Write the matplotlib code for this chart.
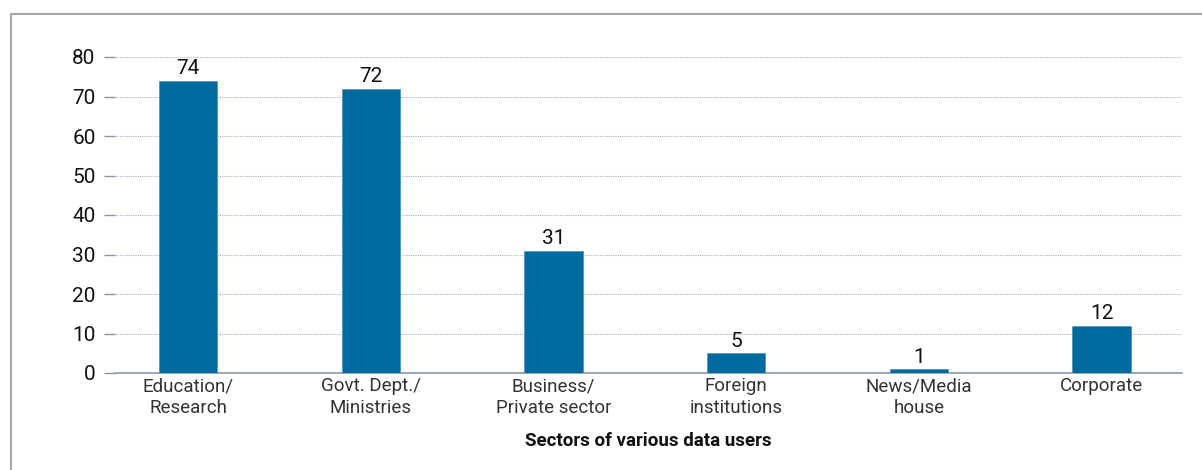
import matplotlib
matplotlib.use("Agg")
import matplotlib.pyplot as plt
from matplotlib.patches import Rectangle

categories = ["Education/\nResearch", "Govt. Dept./\nMinistries", "Business/\nPrivate sector",
              "Foreign\ninstitutions", "News/Media\nhouse", "Corporate"]
values = [74, 72, 31, 5, 1, 12]
yticks = [0, 10, 20, 30, 40, 50, 60, 70, 80]

plt.rcParams['font.family'] = ['Roboto', 'DejaVu Sans']

W, H = 1202, 470
fig = plt.figure(figsize=(W / 100, H / 100), dpi=100)
ax = fig.add_axes([115 / W, 1 - 373 / H, (1182 - 115) / W, (373 - 57) / H])

# outer frame
fig.patches.append(Rectangle((11 / W, -0.1), 1.2, 1 - 14 / H + 0.1, transform=fig.transFigure,
                             fill=False, edgecolor='#a6a6a6', linewidth=1.5, zorder=0))

x = list(range(len(categories)))
bars = ax.bar(x, values, width=0.32, color='#016a9f', edgecolor='#4a90bb', linewidth=0.5, zorder=3)
for xi, v in zip(x, values):
    ax.text(xi, v + 0.6, str(v), ha='center', va='bottom', fontsize=15, color='#111111')

ax.set_xlim(-0.40, 5.44)
ax.set_ylim(0, 80)
ax.set_yticks(yticks)
ax.set_xticks(x)
ax.set_xticklabels(categories, fontsize=13.5, color='#333333', linespacing=1.25)
ax.tick_params(axis='y', labelsize=15, length=8, width=1, color='#8a96a8', pad=6, labelcolor='#111111')
ax.tick_params(axis='x', length=0, pad=3)
ax.grid(axis='y', linestyle=(0, (1, 1)), color='#aab3c2', linewidth=0.8, zorder=0)
for s in ['top', 'right', 'left']:
    ax.spines[s].set_visible(False)
ax.spines['bottom'].set_color('#8a96a8')
ax.spines['bottom'].set_linewidth(1.2)
ax.set_xlabel("Sectors of various data users", fontsize=13.5, fontweight='bold', color='#111111', labelpad=11)

fig.savefig("out.png", dpi=100)
